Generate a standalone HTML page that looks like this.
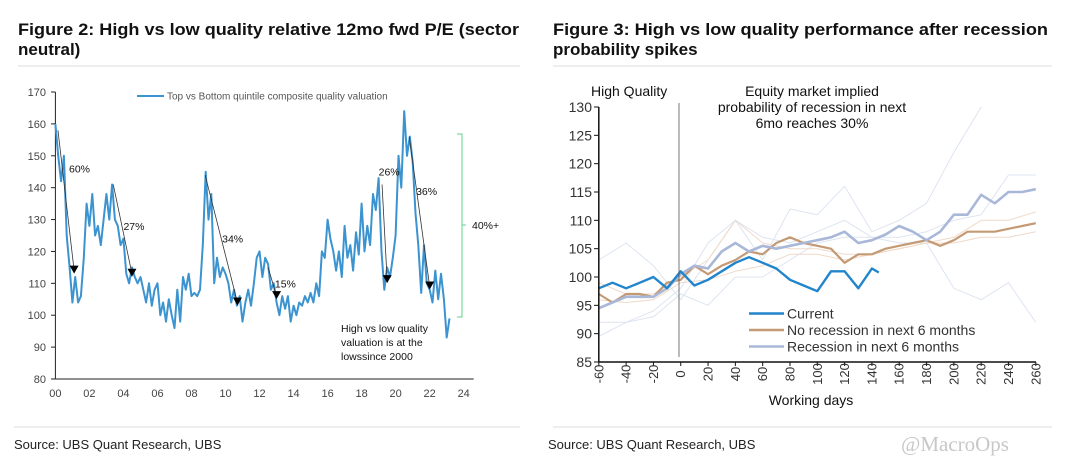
<!DOCTYPE html>
<html><head><meta charset="utf-8"><style>
html,body{margin:0;padding:0;background:#fff;}
svg{display:block;font-family:"Liberation Sans",sans-serif;}
</style></head><body>
<svg id="root" width="1080" height="460" viewBox="0 0 1080 460" xmlns="http://www.w3.org/2000/svg">
<g font-weight="bold" font-size="17" fill="#111">
<text x="18" y="35" textLength="501" lengthAdjust="spacingAndGlyphs">Figure 2: High vs low quality relative 12mo fwd P/E (sector</text>
<text x="18" y="55">neutral)</text></g>
<g font-weight="bold" font-size="17" fill="#111">
<text x="553" y="35" textLength="495" lengthAdjust="spacingAndGlyphs">Figure 3: High vs low quality performance after recession</text>
<text x="553" y="55">probability spikes</text></g>
<line x1="18" y1="66" x2="520" y2="66" stroke="#ddd"/>
<line x1="553" y1="66" x2="1052" y2="66" stroke="#ddd"/>
<line x1="14" y1="427" x2="520" y2="427" stroke="#ddd"/>
<line x1="553" y1="427" x2="1052" y2="427" stroke="#ddd"/>
<text x="14" y="449" font-size="13" fill="#222">Source: UBS Quant Research, UBS</text>
<text x="548" y="449" font-size="13" fill="#222">Source: UBS Quant Research, UBS</text>
<text x="901" y="451" font-family="Liberation Serif, serif" font-size="21" fill="#c8c8c8">@MacroOps</text>
<g id="left"></g>
<g id="right"></g>
</svg>
<script>
// ---- Left chart data (2-month steps from 2000) ----
const leftValues = [160,150,142,150,125,115, 104,112,104,106,118,135, 128,138,125,128,122,130, 138,130,141,130,128,122, 124,113,110,115,112,110, 112,108,104,110,103,108, 110,100,104,98,105,100, 96,108,98,112,108,113, 106,107,106,108,122,145, 130,138,110,118,112,115, 113,110,104,108,103,106, 98,104,108,103,110,118, 120,112,118,116,108,110, 104,100,106,102,106,98, 103,100,104,103,106,104, 107,104,110,106,120,118, 130,124,120,114,120,112, 128,118,122,114,126,119, 135,120,128,122,138,133, 143,120,108,115,112,118, 125,150,140,164,150,156, 148,132,122,107,122,110, 108,104,114,105,113,105, 93,99];
const leftYTicks = [80,90,100,110,120,130,140,150,160,170];
const leftXTicks = ["00","02","04","06","08","10","12","14","16","18","20","22","24"];
const arrowStarts = [[2000.15,158],[2003.4,141],[2008.8,144],[2012.5,115],[2019.2,141],[2020.8,156]];
const arrowEnds = [[2001.1,114],[2004.5,113],[2010.7,104],[2013.0,106],[2019.5,111],[2022.0,109]];
const arrowLabels = ["60%","27%","34%","15%","26%","36%"];
const arrowLabelPos = [[2000.8,146],[2004.0,128],[2009.8,124],[2012.9,110],[2019.0,145],[2021.2,139]];
// ---- Right chart data ----
const rightXTicks = [-60,-40,-20,0,20,40,60,80,100,120,140,160,180,200,220,240,260];
const rightYTicks = [85,90,95,100,105,110,115,120,125,130];
const currentDays = [-60,-50,-40,-30,-20,-10,0,10,20,30,40,50,60,70,80,90,100,110,120,130,140,145];
const currentVals = [98,99,98,99,100,98,101,98.5,99.5,101,102.5,103.5,102.5,101.5,99.5,98.5,97.5,101,101,98,101.5,100.8];
const fullDays = [-60,-50,-40,-30,-20,-10,0,10,20,30,40,50,60,70,80,90,100,110,120,130,140,150,160,170,180,190,200,210,220,230,240,250,260];
const noRecVals = [97,95.5,97,97,96.5,99,99.5,102,100.5,102,103,104.5,104,106,107,106,105.5,105,102.5,104,104,105,105.5,106,106.5,105.5,106.5,108,108,108,108.5,109,109.5];
const recVals = [94.5,95.5,96.5,96.5,96.5,98,100.5,102,101.5,104.5,106,104.5,105.5,105,105.5,106,106.5,107,108,106,106.5,107.5,109,108,106.5,108,111,111,114.5,113,115,115,115.5];
const faintDays = [-60,-40,-20,0,20,40,60,80,100,120,140,160,180,200,220,240,260];
const faintBlue1 = [103,106,102,96,103,110,103,112,111,116,108,110,113,122,130,131,131];
const faintBlue2 = [89.5,92,94,98,106,110,107,106,108,110,107,106,106,98,96,99,92];
const faintBlue3 = [92,92,93,97,95,100,100,103,106,107,107,107,108,110,111,118,118];
const faintOrange1 = [99,97,97,100,103,110,106,105,105,104,104,105,106,107,110,110,111.5];
const faintOrange2 = [96,95.5,96,99,99.5,101,102,104,104,103,104,105,106,106,107,107,108];

const NS="http://www.w3.org/2000/svg";
function mk(parent,tag,attrs,text){const e=document.createElementNS(NS,tag);for(const k in attrs)e.setAttribute(k,attrs[k]);if(text!==undefined)e.textContent=text;parent.appendChild(e);return e;}

// Left chart
const L=document.getElementById('left');
const lx=yr=>55.4+(yr-2000)*(408.3/24);
const ly=v=>379-(v-80)*(287/90);
mk(L,'line',{x1:55.4,y1:ly(170),x2:55.4,y2:ly(80),stroke:'#222'});
mk(L,'line',{x1:55.4,y1:ly(80),x2:lx(24+2000)+10,y2:ly(80),stroke:'#222'});
leftYTicks.forEach(t=>{
  const tk=mk(L,'line',{x1:51,x2:55.4,y1:ly(t),y2:ly(t),stroke:'#222'});
  
  
  const lb=mk(L,'text',{x:46,y:ly(t)+4,'font-size':11,fill:'#444','text-anchor':'end'},t);
  
  
});
leftXTicks.forEach((t,i)=>{
  const x=lx(2000+i*2);
  const lb=mk(L,'text',{x:x,y:397,'font-size':11,fill:'#444','text-anchor':'middle'},t);
  
  
});
const lpts=leftValues.map((v,i)=>lx(2000+i/6).toFixed(1)+','+ly(v).toFixed(1)).join(' ');
const lline=mk(L,'polyline',{points:lpts,fill:'none',stroke:'#3b93d0','stroke-width':2,'stroke-linejoin':'round'});


const lg=mk(L,'line',{x1:137,x2:164,y1:96,y2:96,stroke:'#3b93d0','stroke-width':2});


const lgt=mk(L,'text',{x:167,y:99.5,'font-size':10,fill:'#555'},'Top vs Bottom quintile composite quality valuation');


arrowStarts.forEach((s,i)=>{
  const e=arrowEnds[i];
  const x1=lx(s[0]),y1=ly(s[1]),x2=lx(e[0]),y2=ly(e[1]);
  const a=mk(L,'line',{x1:x1,y1:y1,x2:x2,y2:y2,stroke:'#333','stroke-width':0.8});
  
  
  const h=mk(L,'polygon',{points:`${x2-4.5},${y2-5} ${x2+4.5},${y2-5} ${x2},${y2+3}`,fill:'#000'});
  
  
  const p=arrowLabelPos[i];
  const t=mk(L,'text',{x:lx(p[0]),y:ly(p[1])+4,'font-size':10.5,fill:'#111'},arrowLabels[i]);
  
  
});
const br=mk(L,'path',{d:'M457,134 H462 V317 H457',fill:'none',stroke:'#5fd08a','stroke-width':1});


mk(L,'line',{x1:462,x2:466,y1:225,y2:225,stroke:'#5fd08a'});
const brt=mk(L,'text',{x:472,y:229,'font-size':10.5,fill:'#111'},'40%+');


['High vs low quality','valuation is at the','lowssince 2000'].forEach((s,i)=>{
  const t=mk(L,'text',{x:341,y:332+i*14,'font-size':10.5,fill:'#111'},s);
  
  
});

// Right chart
const R=document.getElementById('right');
const rx=d=>598.8+(d+60)*(437/320);
const ry=v=>362-(v-85)*(255/45);
const clip=mk(R,'clipPath',{id:'rclip'});
mk(clip,'rect',{x:598,y:ry(130),width:440,height:ry(85)-ry(130)});
const plot=mk(R,'g',{'clip-path':'url(#rclip)'});
function series(days,vals,color,w,name){
  const pts=vals.map((v,i)=>rx(days[i]).toFixed(1)+','+ry(v).toFixed(1)).join(' ');
  const p=mk(plot,'polyline',{points:pts,fill:'none',stroke:color,'stroke-width':w,'stroke-linejoin':'round'});
  
  
}
series(faintDays,faintBlue1,'#dde4f1',1,'faint-recession-1');
series(faintDays,faintBlue2,'#dde4f1',1,'faint-recession-2');
series(faintDays,faintBlue3,'#dde4f1',1,'faint-recession-3');
series(faintDays,faintOrange1,'#efd9c8',1,'faint-no-recession-1');
series(faintDays,faintOrange2,'#efd9c8',1,'faint-no-recession-2');
series(fullDays,noRecVals,'#c49a74',2.2,'no-recession-line');
series(fullDays,recVals,'#a9b8d8',2.6,'recession-line');
series(currentDays,currentVals,'#2185cc',2.4,'current-line');
mk(R,'line',{x1:598.8,y1:ry(130),x2:598.8,y2:ry(85),stroke:'#111','stroke-width':1.5});
mk(R,'line',{x1:598.8,y1:ry(85),x2:1036,y2:ry(85),stroke:'#111','stroke-width':1.5});
const vl=mk(R,'line',{x1:679,x2:679,y1:103,y2:357,stroke:'#555','stroke-width':0.8});


rightYTicks.forEach(t=>{
  mk(R,'line',{x1:594,x2:598.8,y1:ry(t),y2:ry(t),stroke:'#111'});
  const lb=mk(R,'text',{x:592,y:ry(t)+5,'font-size':14,fill:'#333','text-anchor':'end'},t);
  
  
});
rightXTicks.forEach(t=>{
  const x=rx(t);
  mk(R,'line',{x1:x,x2:x,y1:ry(85),y2:ry(85)+4,stroke:'#111'});
  const lb=mk(R,'text',{x:0,y:0,'font-size':13,fill:'#333','text-anchor':'middle',transform:`translate(${x+4.5},374) rotate(-90)`},t);
  
  
});
const xt=mk(R,'text',{x:811,y:405,'font-size':14,fill:'#111','text-anchor':'middle'},'Working days');


const hq=mk(R,'text',{x:591,y:96,'font-size':14,fill:'#111'},'High Quality');


['Equity market implied','probability of recession in next','6mo reaches 30%'].forEach((s,i)=>{
  const t=mk(R,'text',{x:812,y:96+i*16,'font-size':14,fill:'#111','text-anchor':'middle'},s);
  
  
});
[['Current','#2185cc'],['No recession in next 6 months','#c49a74'],['Recession in next 6 months','#a9b8d8']].forEach((e,i)=>{
  const y=313.5+i*16.5;
  const s=mk(R,'line',{x1:749,x2:784,y1:y,y2:y,stroke:e[1],'stroke-width':2.5});
  
  
  const t=mk(R,'text',{x:787,y:y+5,'font-size':14,fill:'#333'},e[0]);
  
  
});
</script>
</body></html>
